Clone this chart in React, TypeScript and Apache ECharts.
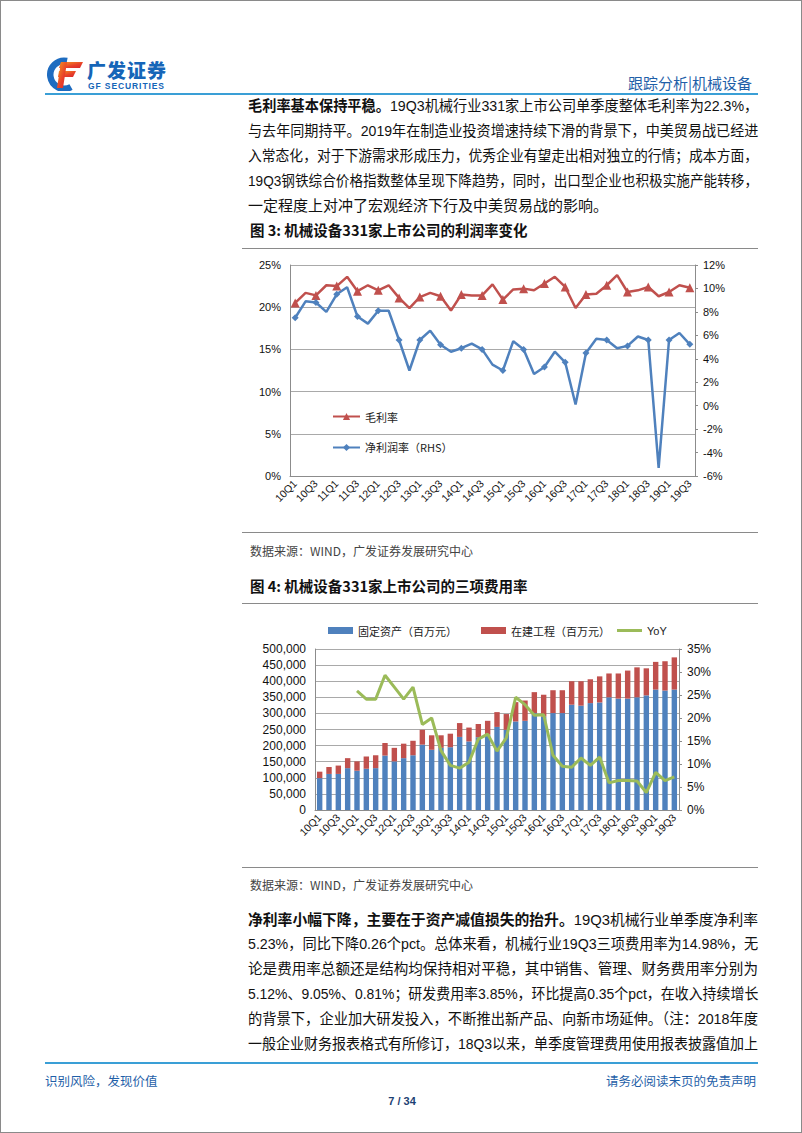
import React, { useEffect, useLayoutEffect, useRef, useState } from "react";
import * as echarts from "echarts";

const quarters = [
  "10Q1", "10Q2", "10Q3", "10Q4", "11Q1", "11Q2", "11Q3", "11Q4",
  "12Q1", "12Q2", "12Q3", "12Q4", "13Q1", "13Q2", "13Q3", "13Q4",
  "14Q1", "14Q2", "14Q3", "14Q4", "15Q1", "15Q2", "15Q3", "15Q4",
  "16Q1", "16Q2", "16Q3", "16Q4", "17Q1", "17Q2", "17Q3", "17Q4",
  "18Q1", "18Q2", "18Q3", "18Q4", "19Q1", "19Q2", "19Q3",
];

// Figure 3 (%)
const grossMargin = [
  20.5, 21.7, 21.4, 22.6, 22.5, 23.6, 21.9, 22.6, 22.0, 22.6,
  21.1, 19.9, 21.2, 21.7, 21.3, 19.6, 21.5, 21.4, 21.4, 22.7,
  20.9, 22.1, 22.2, 22.0, 22.8, 23.6, 22.4, 19.9, 21.5, 21.6,
  22.6, 23.8, 21.8, 22.0, 22.4, 21.3, 21.8, 22.6, 22.3,
];
const netMargin = [
  7.5, 8.9, 8.8, 8.0, 9.5, 10.1, 7.6, 7.0, 8.1, 8.1,
  5.6, 3.0, 5.6, 6.4, 5.2, 4.6, 4.9, 5.3, 4.8, 3.5,
  3.0, 5.5, 4.8, 2.7, 3.3, 4.6, 3.7, 0.1, 4.5, 5.7,
  5.6, 4.9, 5.1, 5.9, 5.6, -5.3, 5.6, 6.2, 5.23,
];

// Figure 4 (million yuan, %)
const fixedAssets = [
  99000, 112000, 112000, 130000, 122000, 128000, 130000, 169000, 151000, 161000,
  170000, 203000, 187000, 193000, 195000, 227000, 213000, 226000, 234000, 258000,
  249000, 275000, 277000, 301000, 290000, 301000, 301000, 327000, 324000, 332000,
  334000, 350000, 346000, 346000, 350000, 356000, 374000, 371000, 374000,
];
const construction = [
  20000, 21500, 26000, 31000, 29000, 38000, 40000, 39000, 42000, 45000,
  45000, 46000, 45000, 39000, 42000, 43000, 43000, 41000, 43000, 46000,
  49000, 60000, 63000, 65000, 68000, 71000, 71000, 73000, 76000, 74000,
  81000, 74000, 78000, 87000, 93000, 84000, 86000, 91000, 100000,
];
const yoy = [
  null, null, null, null, 25.9, 24.1, 24.1, 29.3, 26.7, 24.1,
  26.7, 18.6, 20.0, 12.9, 9.7, 9.1, 10.4, 15.4, 16.5, 12.8,
  15.7, 24.5, 22.9, 20.6, 20.7, 11.9, 9.5, 9.3, 11.3, 9.7,
  11.5, 5.9, 6.4, 6.4, 6.3, 3.8, 8.2, 6.4, 7.2,
];

const para1 = [
  { b: "毛利率基本保持平稳。", t: "19Q3机械行业331家上市公司单季度整体毛利率为22.3%，" },
  { b: "", t: "与去年同期持平。2019年在制造业投资增速持续下滑的背景下，中美贸易战已经进" },
  { b: "", t: "入常态化，对于下游需求形成压力，优秀企业有望走出相对独立的行情；成本方面，" },
  { b: "", t: "19Q3钢铁综合价格指数整体呈现下降趋势，同时，出口型企业也积极实施产能转移，" },
  { b: "", t: "一定程度上对冲了宏观经济下行及中美贸易战的影响。", last: true },
];
const para2 = [
  { b: "净利率小幅下降，主要在于资产减值损失的抬升。", t: "19Q3机械行业单季度净利率" },
  { b: "", t: "5.23%，同比下降0.26个pct。总体来看，机械行业19Q3三项费用率为14.98%，无" },
  { b: "", t: "论是费用率总额还是结构均保持相对平稳，其中销售、管理、财务费用率分别为" },
  { b: "", t: "5.12%、9.05%、0.81%；研发费用率3.85%，环比提高0.35个pct，在收入持续增长" },
  { b: "", t: "的背景下，企业加大研发投入，不断推出新产品、向新市场延伸。（注：2018年度" },
  { b: "", t: "一般企业财务报表格式有所修订，18Q3以来，单季度管理费用使用报表披露值加上" },
];

const LATIN = '"Liberation Sans", Arial, "Noto Sans CJK SC", sans-serif';
const CJK = '"Noto Sans CJK SC", "Liberation Sans", sans-serif';
const BODY = '"Liberation Sans Narrow", "Liberation Sans", "Noto Sans CJK SC", sans-serif';
const BLUE_TEXT = "#1f5fa8";
const LINE_BLUE = "#3a9fd6";
const TEXT_W = 510;

function useChart(option: any) {
  const ref = useRef<HTMLDivElement>(null);
  useEffect(() => {
    const chart = echarts.init(ref.current!, null, { renderer: "svg" });
    chart.setOption(option);
    return () => chart.dispose();
  }, []);
  return ref;
}

function Chart1() {
  const axisColor = "#8c8c8c";
  const ref = useChart({
    animation: false,
    textStyle: { fontFamily: LATIN },
    grid: { left: 49, right: 46, top: 14, bottom: 45 },
    legend: {
      orient: "vertical",
      left: 86,
      top: 155,
      itemGap: 20,
      itemWidth: 27,
      itemHeight: 9,
      data: ["毛利率", "净利润率（RHS）"],
      textStyle: { fontSize: 11, color: "#222", fontFamily: CJK },
    },
    xAxis: {
      type: "category",
      data: quarters,
      boundaryGap: true,
      axisLine: { onZero: false, lineStyle: { color: axisColor } },
      axisTick: { interval: 0, length: 4, lineStyle: { color: axisColor } },
      axisLabel: { interval: 1, rotate: 45, fontSize: 10.5, color: "#111", margin: 6 },
    },
    yAxis: [
      {
        type: "value",
        min: 0,
        max: 25,
        interval: 5,
        axisLine: { show: true, lineStyle: { color: axisColor } },
        axisTick: { show: false },
        axisLabel: { formatter: "{value}%", fontSize: 11, color: "#111", margin: 9 },
        splitLine: { lineStyle: { color: "#a9a9a9" } },
      },
      {
        type: "value",
        min: -6,
        max: 12,
        interval: 2,
        position: "right",
        axisLine: { show: true, lineStyle: { color: axisColor } },
        axisTick: { show: true, length: 3, lineStyle: { color: axisColor } },
        axisLabel: { formatter: "{value}%", fontSize: 11, color: "#111", margin: 8 },
        splitLine: { show: false },
      },
    ],
    series: [
      {
        name: "毛利率",
        type: "line",
        yAxisIndex: 0,
        data: grossMargin,
        color: "#c0504d",
        lineStyle: { width: 2.5, color: "#c0504d" },
        symbol: "triangle",
        symbolSize: 9,
      },
      {
        name: "净利润率（RHS）",
        type: "line",
        yAxisIndex: 1,
        data: netMargin,
        color: "#4f81bd",
        lineStyle: { width: 2.5, color: "#4f81bd" },
        symbol: "diamond",
        symbolSize: 7,
      },
    ],
  });
  return <div ref={ref} style={{ position: "absolute", left: 240, top: 250, width: 500, height: 270 }} />;
}

function Chart2() {
  const axisColor = "#8c8c8c";
  const ref = useChart({
    animation: false,
    textStyle: { fontFamily: LATIN },
    grid: { left: 74, right: 62, top: 38, bottom: 51 },
    legend: [
      {
        left: 82,
        top: 9,
        itemGap: 24,
        itemWidth: 25,
        itemHeight: 7,
        icon: "rect",
        data: ["固定资产（百万元）", "在建工程（百万元）"],
        textStyle: { fontSize: 11, color: "#222", fontFamily: CJK },
      },
      {
        left: 371,
        top: 9,
        itemWidth: 25,
        itemHeight: 3,
        icon: "rect",
        data: ["YoY"],
        textStyle: { fontSize: 11, color: "#222", fontFamily: LATIN },
      },
    ],
    xAxis: {
      type: "category",
      data: quarters,
      boundaryGap: true,
      axisLine: { onZero: false, lineStyle: { color: axisColor } },
      axisTick: { interval: 0, length: 4, lineStyle: { color: axisColor } },
      axisLabel: { interval: 1, rotate: 45, fontSize: 10.5, color: "#111", margin: 6 },
    },
    yAxis: [
      {
        type: "value",
        min: 0,
        max: 500000,
        interval: 50000,
        axisLine: { show: true, lineStyle: { color: axisColor } },
        axisTick: { show: false },
        axisLabel: {
          fontSize: 12,
          color: "#111",
          margin: 9,
          formatter: (v: number) => v.toLocaleString("en-US"),
        },
        splitLine: { lineStyle: { color: "#a9a9a9" } },
      },
      {
        type: "value",
        min: 0,
        max: 35,
        interval: 5,
        position: "right",
        axisLine: { show: true, lineStyle: { color: axisColor } },
        axisTick: { show: true, length: 3, lineStyle: { color: axisColor } },
        axisLabel: { formatter: "{value}%", fontSize: 12, color: "#111", margin: 8 },
        splitLine: { show: false },
      },
    ],
    series: [
      {
        name: "固定资产（百万元）",
        type: "bar",
        stack: "a",
        data: fixedAssets,
        barWidth: "58%",
        color: "#4f81bd",
      },
      {
        name: "在建工程（百万元）",
        type: "bar",
        stack: "a",
        data: construction,
        barWidth: "58%",
        color: "#c0504d",
      },
      {
        name: "YoY",
        type: "line",
        yAxisIndex: 1,
        data: yoy,
        color: "#9bbb59",
        lineStyle: { width: 3, color: "#9bbb59" },
        symbol: "none",
        connectNulls: false,
      },
    ],
  });
  return <div ref={ref} style={{ position: "absolute", left: 240, top: 610, width: 500, height: 250 }} />;
}

function TextLine({ y, b, t, last }: { y: number; b: string; t: string; last?: boolean }) {
  const ref = useRef<HTMLDivElement>(null);
  const [scale, setScale] = useState<number | null>(null);
  useLayoutEffect(() => {
    const el = ref.current!;
    const w = el.scrollWidth;
    setScale(w > TEXT_W ? TEXT_W / w : 1);
  }, []);
  const width = scale === null ? "max-content" : scale < 1 ? TEXT_W / scale : TEXT_W;
  return (
    <div
      ref={ref}
      style={{
        position: "absolute",
        left: 247,
        top: y - 12,
        width,
        height: 25,
        lineHeight: "25px",
        fontSize: 15,
        fontFamily: BODY,
        color: "#111",
        whiteSpace: "nowrap",
        textAlign: last ? "left" : "justify",
        textAlignLast: last ? "left" : "justify",
        transform: scale !== null && scale < 1 ? `scaleX(${scale})` : "none",
        transformOrigin: "0 0",
      } as any}
    >
      {b ? <b style={{ fontFamily: CJK, fontWeight: 700 }}>{b}</b> : null}
      {t}
    </div>
  );
}

function Caption({ y, text }: { y: number; text: string }) {
  return (
    <div
      style={{
        position: "absolute",
        left: 249,
        top: y - 10,
        height: 20,
        lineHeight: "20px",
        fontSize: 14.5,
        fontWeight: 700,
        fontFamily: CJK,
        color: "#111",
        whiteSpace: "nowrap",
      }}
    >
      {text}
    </div>
  );
}

function Rule({ y }: { y: number }) {
  return <div style={{ position: "absolute", left: 241, top: y, width: 516, height: 1, background: "#8a8a8a" }} />;
}

function Source({ y }: { y: number }) {
  return (
    <div
      style={{
        position: "absolute",
        left: 249,
        top: y - 9,
        height: 18,
        lineHeight: "18px",
        fontSize: 12,
        fontFamily: CJK,
        color: "#444",
        whiteSpace: "nowrap",
      }}
    >
      数据来源：WIND，广发证券发展研究中心
    </div>
  );
}

function Logo() {
  return (
    <svg style={{ position: "absolute", left: 44, top: 56 }} width={40} height={34} viewBox="0 0 40 34">
      <defs>
        <linearGradient id="fgrad" x1="0" y1="0" x2="1" y2="1">
          <stop offset="0" stopColor="#f5a020" />
          <stop offset="0.6" stopColor="#e8402a" />
          <stop offset="1" stopColor="#d8262a" />
        </linearGradient>
      </defs>
      <path d="M 22 4 A 14 14 0 1 0 26 30" fill="none" stroke="#1e6cc0" strokeWidth={6.5} />
      <polygon points="16,5 38,5 35,11 14,11" fill="url(#fgrad)" />
      <polygon points="14,14 31,14 28,20 13,20" fill="url(#fgrad)" />
      <polygon points="16,5 22,5 18,31 12,31" fill="url(#fgrad)" />
    </svg>
  );
}

export default function App() {
  const p1y = [103, 129, 154, 179, 204];
  const p2y = [917, 942, 967, 992, 1017, 1042];
  return (
    <div
      style={{
        position: "absolute",
        left: 0,
        top: 0,
        width: 802,
        height: 1133,
        background: "#fff",
        boxSizing: "border-box",
        border: "1px solid #8a8a8a",
        overflow: "hidden",
      }}
    >
      <Logo />
      <div
        style={{
          position: "absolute",
          left: 86,
          top: 57,
          fontSize: 19,
          lineHeight: "24px",
          fontWeight: 900,
          fontFamily: CJK,
          color: "#1565b8",
          letterSpacing: 1,
          whiteSpace: "nowrap",
        }}
      >
        广发证券
      </div>
      <div
        style={{
          position: "absolute",
          left: 87,
          top: 80,
          fontSize: 8.5,
          lineHeight: "10px",
          fontWeight: 700,
          fontFamily: LATIN,
          color: "#1565b8",
          letterSpacing: 0.9,
          whiteSpace: "nowrap",
        }}
      >
        GF SECURITIES
      </div>
      <div
        style={{
          position: "absolute",
          right: 802 - 753,
          top: 71,
          fontSize: 15,
          lineHeight: "22px",
          fontFamily: CJK,
          color: BLUE_TEXT,
          whiteSpace: "nowrap",
        }}
      >
        跟踪分析|机械设备
      </div>
      <div style={{ position: "absolute", left: 44, top: 92, width: 713, height: 2, background: LINE_BLUE }} />

      {para1.map((l, i) => (
        <TextLine key={"a" + i} y={p1y[i]} b={l.b} t={l.t} last={(l as any).last} />
      ))}

      <Caption y={229} text="图 3:  机械设备331家上市公司的利润率变化" />
      <Rule y={247} />
      <Chart1 />
      <Rule y={531} />
      <Source y={550} />

      <Caption y={585} text="图 4:  机械设备331家上市公司的三项费用率" />
      <Rule y={602} />
      <Chart2 />
      <Rule y={866} />
      <Source y={884} />

      {para2.map((l, i) => (
        <TextLine key={"b" + i} y={p2y[i]} b={l.b} t={l.t} />
      ))}

      <div style={{ position: "absolute", left: 44, top: 1061, width: 713, height: 2, background: LINE_BLUE }} />
      <div
        style={{
          position: "absolute",
          left: 44,
          top: 1070,
          fontSize: 12.5,
          lineHeight: "20px",
          fontFamily: CJK,
          color: BLUE_TEXT,
          whiteSpace: "nowrap",
        }}
      >
        识别风险，发现价值
      </div>
      <div
        style={{
          position: "absolute",
          right: 802 - 757,
          top: 1070,
          fontSize: 12.5,
          lineHeight: "20px",
          fontFamily: CJK,
          color: BLUE_TEXT,
          whiteSpace: "nowrap",
        }}
      >
        请务必阅读末页的免责声明
      </div>
      <div
        style={{
          position: "absolute",
          left: 0,
          width: 802,
          top: 1091,
          textAlign: "center",
          fontSize: 11,
          lineHeight: "18px",
          fontWeight: 700,
          fontFamily: LATIN,
          color: "#1d3f73",
        }}
      >
        7 / 34
      </div>
    </div>
  );
}
